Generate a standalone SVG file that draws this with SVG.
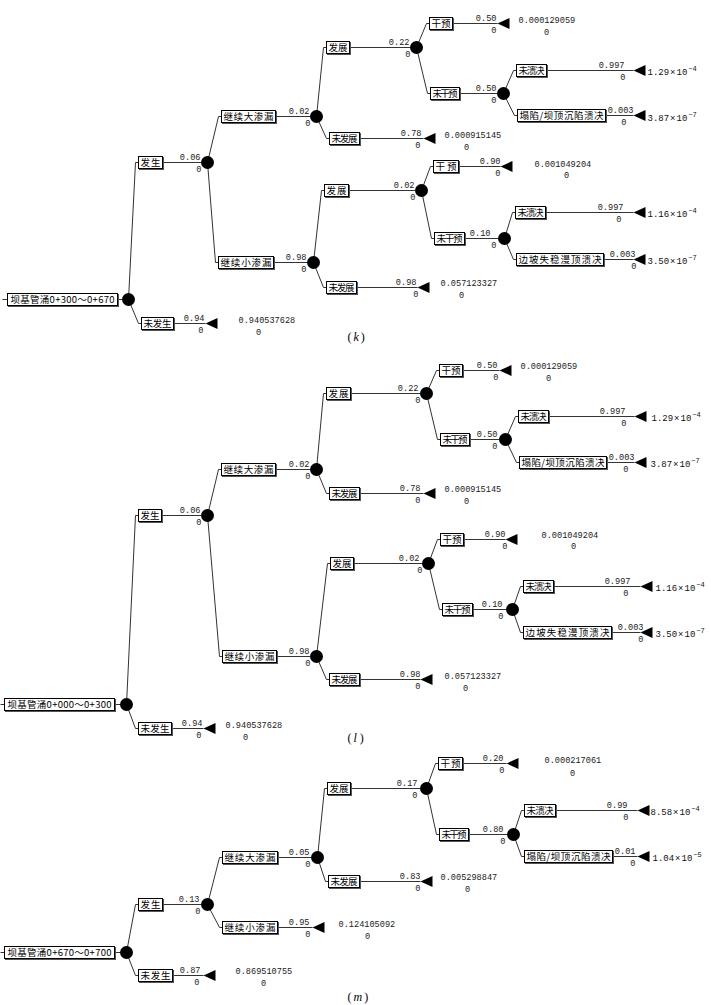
<svg xmlns="http://www.w3.org/2000/svg" xmlns:xlink="http://www.w3.org/1999/xlink" width="711" height="1005" viewBox="0 0 711 1005">
<defs>
<filter id="sh" x="-10%" y="-30%" width="130%" height="170%"><feDropShadow dx="1" dy="1" stdDeviation="0" flood-color="#555" flood-opacity="1"/></filter>
<path id="tri" d="M0,0 L12,-5.5 L12,5.5 Z" fill="#000"/>
</defs>
<style>
.box{fill:#fff;stroke:#000;stroke-width:1;filter:url(#sh)}
.lb{font-family:"Noto Sans CJK SC","Noto Sans CJK JP",sans-serif;font-size:9.5px;text-anchor:middle;fill:#000}
.ch{fill:#000}
.ln{fill:none;stroke:#333;stroke-width:1}
.p{font-family:"Liberation Mono",monospace;font-size:8.6px;text-anchor:end;fill:#222}
.v{font-family:"Liberation Mono",monospace;font-size:8.6px;fill:#222}
.vz{font-family:"Liberation Mono",monospace;font-size:8.6px;text-anchor:middle;fill:#222}
.sci{font-family:"Liberation Mono",monospace;font-size:9px;fill:#111}
.sup{font-size:7px}
.cap{font-family:"Liberation Serif",serif;font-size:12px;fill:#000}
</style>
<rect width="711" height="1005" fill="#fff"/>
<g transform="translate(0.5,0.5)">

<!-- ================= panel k ================= -->
<g id="k-connectors">
<polyline class="ln" points="2,299 7,299"/>
<polyline class="ln" points="117,299 121.5,299"/>
<polyline class="ln" points="128,299 135,162 138,162"/>
<polyline class="ln" points="128,299 138,323 141,323"/>
<polyline class="ln" points="162,162 200.5,162"/>
<polyline class="ln" points="173,323 205,323"/>
<polyline class="ln" points="207,162 218,116 221,116"/>
<polyline class="ln" points="207,162 215,262 218,262"/>
<polyline class="ln" points="275,116 309.5,116"/>
<polyline class="ln" points="273,262 306.5,262"/>
<polyline class="ln" points="316,116 323,47 326,47"/>
<polyline class="ln" points="316,116 326,138 329,138"/>
<polyline class="ln" points="349,47 409.5,47"/>
<polyline class="ln" points="359,138 423,138"/>
<polyline class="ln" points="416,47 426,23 429,23"/>
<polyline class="ln" points="416,47 427,93 430,93"/>
<polyline class="ln" points="452,23 497,23"/>
<polyline class="ln" points="459,93 496.5,93"/>
<polyline class="ln" points="503,93 513,70 516,70"/>
<polyline class="ln" points="503,93 514,115 517,115"/>
<polyline class="ln" points="546,70 633,70"/>
<polyline class="ln" points="605,115 633,115"/>
<polyline class="ln" points="313,262 321,190 324,190"/>
<polyline class="ln" points="313,262 323,287 326,287"/>
<polyline class="ln" points="348,190 414.5,190"/>
<polyline class="ln" points="356,287 417,287"/>
<polyline class="ln" points="421,190 430,166 433,166"/>
<polyline class="ln" points="421,190 431,238 434,238"/>
<polyline class="ln" points="458,166 500,166"/>
<polyline class="ln" points="464,238 497.5,238"/>
<polyline class="ln" points="504,238 512,212 515,212"/>
<polyline class="ln" points="504,238 513,259 516,259"/>
<polyline class="ln" points="545,212 633,212"/>
<polyline class="ln" points="603,259 633,259"/>
<text class="p" x="200" y="159">0.06</text><text class="p" x="201" y="171">0</text>
<text class="p" x="204" y="320">0.94</text><text class="p" x="203" y="332">0</text>
<text class="p" x="309" y="113">0.02</text><text class="p" x="310" y="125">0</text>
<text class="p" x="306" y="259">0.98</text><text class="p" x="306" y="271">0</text>
<text class="p" x="409" y="44">0.22</text><text class="p" x="410" y="56">0</text>
<text class="p" x="421" y="135">0.78</text><text class="p" x="420" y="147">0</text>
<text class="p" x="496" y="20">0.50</text><text class="p" x="496" y="32">0</text>
<text class="p" x="496" y="90">0.50</text><text class="p" x="496" y="102">0</text>
<text class="p" x="624" y="67">0.997</text><text class="p" x="625" y="79">0</text>
<text class="p" x="633" y="112">0.003</text><text class="p" x="626" y="124">0</text>
<text class="p" x="414" y="187">0.02</text><text class="p" x="415" y="199">0</text>
<text class="p" x="416" y="284">0.98</text><text class="p" x="418" y="296">0</text>
<text class="p" x="500" y="163">0.90</text><text class="p" x="500" y="175">0</text>
<text class="p" x="490" y="235">0.10</text><text class="p" x="496" y="247">0</text>
<text class="p" x="623" y="209">0.997</text><text class="p" x="621" y="221">0</text>
<text class="p" x="635" y="256">0.003</text><text class="p" x="636" y="268">0</text>
</g>
<g id="k-root"><rect class="box" x="7" y="293" width="110" height="12"/><text class="lb" x="62" y="302.5" textLength="104">坝基管涌0+300～0+670</text></g>
<g id="k-c0"><circle class="ch" cx="128" cy="299" r="6.5"/></g>
<g id="k-n1"><rect class="box" x="138" y="156" width="24" height="12"/><text class="lb" x="150" y="165.5" textLength="20">发生</text></g>
<g id="k-n2"><rect class="box" x="141" y="317" width="32" height="12"/><text class="lb" x="157" y="326.5" textLength="28">未发生</text></g>
<g id="k-t2"><use href="#tri" x="205" y="323"/><text class="v" x="238" y="322">0.940537628</text><text class="vz" x="258" y="334">0</text></g>
<g id="k-c1"><circle class="ch" cx="207" cy="162" r="6.5"/></g>
<g id="k-n3"><rect class="box" x="221" y="110" width="54" height="12"/><text class="lb" x="248" y="119.5" textLength="50">继续大渗漏</text></g>
<g id="k-c2"><circle class="ch" cx="316" cy="116" r="6.5"/></g>
<g id="k-n4"><rect class="box" x="218" y="256" width="55" height="12"/><text class="lb" x="245.5" y="265.5" textLength="51">继续小渗漏</text></g>
<g id="k-c3"><circle class="ch" cx="313" cy="262" r="6.5"/></g>
<g id="k-n5"><rect class="box" x="326" y="41" width="23" height="12"/><text class="lb" x="337.5" y="50.5" textLength="19">发展</text></g>
<g id="k-c4"><circle class="ch" cx="416" cy="47" r="6.5"/></g>
<g id="k-n6"><rect class="box" x="329" y="132" width="30" height="12"/><text class="lb" x="344" y="141.5" textLength="26">未发展</text></g>
<g id="k-t6"><use href="#tri" x="423" y="138"/><text class="v" x="444" y="137">0.000915145</text><text class="vz" x="466" y="149">0</text></g>
<g id="k-n7"><rect class="box" x="429" y="17" width="23" height="12"/><text class="lb" x="440.5" y="26.5" textLength="19">干预</text></g>
<g id="k-t7"><use href="#tri" x="497" y="23"/><text class="v" x="518" y="22">0.000129059</text><text class="vz" x="546" y="34">0</text></g>
<g id="k-n8"><rect class="box" x="430" y="87" width="29" height="12"/><text class="lb" x="444.5" y="96.5" textLength="25">未干预</text></g>
<g id="k-c5"><circle class="ch" cx="503" cy="93" r="6.5"/></g>
<g id="k-n9"><rect class="box" x="516" y="64" width="30" height="12"/><text class="lb" x="531" y="73.5" textLength="26">未溃决</text></g>
<g id="k-t9"><use href="#tri" x="633" y="70"/><text class="sci" x="647" y="74">1.29<tspan dx="1">×</tspan><tspan dx="1">10</tspan><tspan class="sup" dx="1" dy="-4">−4</tspan></text></g>
<g id="k-n10"><rect class="box" x="517" y="109" width="88" height="12"/><text class="lb" x="561" y="118.5" textLength="84">塌陷/坝顶沉陷溃决</text></g>
<g id="k-t10"><use href="#tri" x="633" y="115"/><text class="sci" x="647" y="120">3.87<tspan dx="1">×</tspan><tspan dx="1">10</tspan><tspan class="sup" dx="1" dy="-4">−7</tspan></text></g>
<g id="k-n11"><rect class="box" x="324" y="184" width="24" height="12"/><text class="lb" x="336" y="193.5" textLength="20">发展</text></g>
<g id="k-c6"><circle class="ch" cx="421" cy="190" r="6.5"/></g>
<g id="k-n12"><rect class="box" x="326" y="281" width="30" height="12"/><text class="lb" x="341" y="290.5" textLength="26">未发展</text></g>
<g id="k-t12"><use href="#tri" x="417" y="287"/><text class="v" x="440" y="285">0.057123327</text><text class="vz" x="461" y="297">0</text></g>
<g id="k-n13"><rect class="box" x="433" y="160" width="25" height="12"/><text class="lb" x="445.5" y="169.5" textLength="21">干预</text></g>
<g id="k-t13"><use href="#tri" x="500" y="166"/><text class="v" x="534" y="166">0.001049204</text><text class="vz" x="566" y="177">0</text></g>
<g id="k-n14"><rect class="box" x="434" y="232" width="30" height="12"/><text class="lb" x="449" y="241.5" textLength="26">未干预</text></g>
<g id="k-c7"><circle class="ch" cx="504" cy="238" r="6.5"/></g>
<g id="k-n15"><rect class="box" x="515" y="206" width="30" height="12"/><text class="lb" x="530" y="215.5" textLength="26">未溃决</text></g>
<g id="k-t15"><use href="#tri" x="633" y="212"/><text class="sci" x="647" y="216">1.16<tspan dx="1">×</tspan><tspan dx="1">10</tspan><tspan class="sup" dx="1" dy="-4">−4</tspan></text></g>
<g id="k-n16"><rect class="box" x="516" y="253" width="87" height="12"/><text class="lb" x="559.5" y="262.5" textLength="83">边坡失稳漫顶溃决</text></g>
<g id="k-t16"><use href="#tri" x="633" y="259"/><text class="sci" x="647" y="263">3.50<tspan dx="1">×</tspan><tspan dx="1">10</tspan><tspan class="sup" dx="1" dy="-4">−7</tspan></text></g>
<text class="cap" x="347" y="340">(<tspan font-style="italic" dx="2">k</tspan><tspan dx="2">)</tspan></text>

<!-- ================= panel l ================= -->
<g id="l-connectors">
<polyline class="ln" points="0,704 4,704"/>
<polyline class="ln" points="114,704 119.5,704"/>
<polyline class="ln" points="126,704 135,515 138,515"/>
<polyline class="ln" points="126,704 135,728 138,728"/>
<polyline class="ln" points="161,515 200.5,515"/>
<polyline class="ln" points="171,728 203,728"/>
<polyline class="ln" points="207,515 218,469 221,469"/>
<polyline class="ln" points="207,515 219,656 222,656"/>
<polyline class="ln" points="275,469 309.5,469"/>
<polyline class="ln" points="276,656 309.5,656"/>
<polyline class="ln" points="316,469 323,393 326,393"/>
<polyline class="ln" points="316,469 326,493 329,493"/>
<polyline class="ln" points="350,393 419.5,393"/>
<polyline class="ln" points="359,493 423,493"/>
<polyline class="ln" points="426,393 436,370 439,370"/>
<polyline class="ln" points="426,393 437,439 440,439"/>
<polyline class="ln" points="462,370 499,370"/>
<polyline class="ln" points="469,439 498.5,439"/>
<polyline class="ln" points="505,439 515,416 518,416"/>
<polyline class="ln" points="505,439 516,462 519,462"/>
<polyline class="ln" points="548,416 634,416"/>
<polyline class="ln" points="606,462 634,462"/>
<polyline class="ln" points="316,656 327,563 330,563"/>
<polyline class="ln" points="316,656 326,679 329,679"/>
<polyline class="ln" points="353,563 421.5,563"/>
<polyline class="ln" points="359,679 420,679"/>
<polyline class="ln" points="428,563 437,539 440,539"/>
<polyline class="ln" points="428,563 439,609 442,609"/>
<polyline class="ln" points="463,539 505,539"/>
<polyline class="ln" points="472,609 505.5,609"/>
<polyline class="ln" points="512,609 520,586 523,586"/>
<polyline class="ln" points="512,609 520,632 523,632"/>
<polyline class="ln" points="553,586 640,586"/>
<polyline class="ln" points="611,632 640,632"/>
<text class="p" x="200" y="512">0.06</text><text class="p" x="201" y="524">0</text>
<text class="p" x="202" y="725">0.94</text><text class="p" x="201" y="737">0</text>
<text class="p" x="309" y="466">0.02</text><text class="p" x="310" y="478">0</text>
<text class="p" x="309" y="653">0.98</text><text class="p" x="310" y="665">0</text>
<text class="p" x="418" y="390">0.22</text><text class="p" x="420" y="402">0</text>
<text class="p" x="420" y="490">0.78</text><text class="p" x="420" y="502">0</text>
<text class="p" x="497" y="367">0.50</text><text class="p" x="498" y="379">0</text>
<text class="p" x="497" y="436">0.50</text><text class="p" x="497" y="448">0</text>
<text class="p" x="625" y="413">0.997</text><text class="p" x="626" y="425">0</text>
<text class="p" x="634" y="459">0.003</text><text class="p" x="628" y="471">0</text>
<text class="p" x="419" y="560">0.02</text><text class="p" x="422" y="572">0</text>
<text class="p" x="420" y="676">0.98</text><text class="p" x="420" y="688">0</text>
<text class="p" x="505" y="536">0.90</text><text class="p" x="507" y="548">0</text>
<text class="p" x="502" y="606">0.10</text><text class="p" x="503" y="618">0</text>
<text class="p" x="630" y="583">0.997</text><text class="p" x="628" y="595">0</text>
<text class="p" x="643" y="629">0.003</text><text class="p" x="643" y="641">0</text>
</g>
<g id="l-root"><rect class="box" x="4" y="698" width="110" height="12"/><text class="lb" x="59" y="707.5" textLength="104">坝基管涌0+000～0+300</text></g>
<g id="l-c0"><circle class="ch" cx="126" cy="704" r="6.5"/></g>
<g id="l-n1"><rect class="box" x="138" y="509" width="23" height="12"/><text class="lb" x="149.5" y="518.5" textLength="19">发生</text></g>
<g id="l-n2"><rect class="box" x="138" y="722" width="33" height="12"/><text class="lb" x="154.5" y="731.5" textLength="29">未发生</text></g>
<g id="l-t2"><use href="#tri" x="203" y="728"/><text class="v" x="225" y="727">0.940537628</text><text class="vz" x="245" y="739">0</text></g>
<g id="l-c1"><circle class="ch" cx="207" cy="515" r="6.5"/></g>
<g id="l-n3"><rect class="box" x="221" y="463" width="54" height="12"/><text class="lb" x="248" y="472.5" textLength="50">继续大渗漏</text></g>
<g id="l-c2"><circle class="ch" cx="316" cy="469" r="6.5"/></g>
<g id="l-n4"><rect class="box" x="222" y="650" width="54" height="12"/><text class="lb" x="249" y="659.5" textLength="50">继续小渗漏</text></g>
<g id="l-c3"><circle class="ch" cx="316" cy="656" r="6.5"/></g>
<g id="l-n5"><rect class="box" x="326" y="387" width="24" height="12"/><text class="lb" x="338" y="396.5" textLength="20">发展</text></g>
<g id="l-c4"><circle class="ch" cx="426" cy="393" r="6.5"/></g>
<g id="l-n6"><rect class="box" x="329" y="487" width="30" height="12"/><text class="lb" x="344" y="496.5" textLength="26">未发展</text></g>
<g id="l-t6"><use href="#tri" x="423" y="493"/><text class="v" x="444" y="491">0.000915145</text><text class="vz" x="466" y="503">0</text></g>
<g id="l-n7"><rect class="box" x="439" y="364" width="23" height="12"/><text class="lb" x="450.5" y="373.5" textLength="19">干预</text></g>
<g id="l-t7"><use href="#tri" x="499" y="370"/><text class="v" x="520" y="368">0.000129059</text><text class="vz" x="548" y="380">0</text></g>
<g id="l-n8"><rect class="box" x="440" y="433" width="29" height="12"/><text class="lb" x="454.5" y="442.5" textLength="25">未干预</text></g>
<g id="l-c5"><circle class="ch" cx="505" cy="439" r="6.5"/></g>
<g id="l-n9"><rect class="box" x="518" y="410" width="30" height="12"/><text class="lb" x="533" y="419.5" textLength="26">未溃决</text></g>
<g id="l-t9"><use href="#tri" x="634" y="416"/><text class="sci" x="651" y="420">1.29<tspan dx="1">×</tspan><tspan dx="1">10</tspan><tspan class="sup" dx="1" dy="-4">−4</tspan></text></g>
<g id="l-n10"><rect class="box" x="519" y="456" width="87" height="12"/><text class="lb" x="562.5" y="465.5" textLength="83">塌陷/坝顶沉陷溃决</text></g>
<g id="l-t10"><use href="#tri" x="634" y="462"/><text class="sci" x="650" y="466">3.87<tspan dx="1">×</tspan><tspan dx="1">10</tspan><tspan class="sup" dx="1" dy="-4">−7</tspan></text></g>
<g id="l-n11"><rect class="box" x="330" y="557" width="23" height="12"/><text class="lb" x="341.5" y="566.5" textLength="19">发展</text></g>
<g id="l-c6"><circle class="ch" cx="428" cy="563" r="6.5"/></g>
<g id="l-n12"><rect class="box" x="329" y="673" width="30" height="12"/><text class="lb" x="344" y="682.5" textLength="26">未发展</text></g>
<g id="l-t12"><use href="#tri" x="420" y="679"/><text class="v" x="444" y="678">0.057123327</text><text class="vz" x="465" y="690">0</text></g>
<g id="l-n13"><rect class="box" x="440" y="533" width="23" height="12"/><text class="lb" x="451.5" y="542.5" textLength="19">干预</text></g>
<g id="l-t13"><use href="#tri" x="505" y="539"/><text class="v" x="541" y="537">0.001049204</text><text class="vz" x="573" y="548">0</text></g>
<g id="l-n14"><rect class="box" x="442" y="603" width="30" height="12"/><text class="lb" x="457" y="612.5" textLength="26">未干预</text></g>
<g id="l-c7"><circle class="ch" cx="512" cy="609" r="6.5"/></g>
<g id="l-n15"><rect class="box" x="523" y="580" width="30" height="12"/><text class="lb" x="538" y="589.5" textLength="26">未溃决</text></g>
<g id="l-t15"><use href="#tri" x="640" y="586"/><text class="sci" x="655" y="590">1.16<tspan dx="1">×</tspan><tspan dx="1">10</tspan><tspan class="sup" dx="1" dy="-4">−4</tspan></text></g>
<g id="l-n16"><rect class="box" x="523" y="626" width="88" height="12"/><text class="lb" x="567" y="635.5" textLength="84">边坡失稳漫顶溃决</text></g>
<g id="l-t16"><use href="#tri" x="640" y="632"/><text class="sci" x="655" y="636">3.50<tspan dx="1">×</tspan><tspan dx="1">10</tspan><tspan class="sup" dx="1" dy="-4">−7</tspan></text></g>
<text class="cap" x="347" y="741">(<tspan font-style="italic" dx="2">l</tspan><tspan dx="3">)</tspan></text>

<!-- ================= panel m ================= -->
<g id="m-connectors">
<polyline class="ln" points="0,952 4,952"/>
<polyline class="ln" points="114,952 119.5,952"/>
<polyline class="ln" points="126,952 135,904 138,904"/>
<polyline class="ln" points="126,952 135,975 138,975"/>
<polyline class="ln" points="162,904 200.5,904"/>
<polyline class="ln" points="172,975 203,975"/>
<polyline class="ln" points="207,904 219,857 222,857"/>
<polyline class="ln" points="207,904 219,927 222,927"/>
<polyline class="ln" points="277,857 310.5,857"/>
<polyline class="ln" points="277,927 312,927"/>
<polyline class="ln" points="317,857 324,788 327,788"/>
<polyline class="ln" points="317,857 325,881 328,881"/>
<polyline class="ln" points="350,788 419.5,788"/>
<polyline class="ln" points="359,881 420,881"/>
<polyline class="ln" points="426,788 435,763 438,763"/>
<polyline class="ln" points="426,788 436,834 439,834"/>
<polyline class="ln" points="462,763 506,763"/>
<polyline class="ln" points="468,834 506.5,834"/>
<polyline class="ln" points="513,834 521,810 524,810"/>
<polyline class="ln" points="513,834 521,856 524,856"/>
<polyline class="ln" points="555,810 637,810"/>
<polyline class="ln" points="612,856 637,856"/>
<text class="p" x="199" y="901">0.13</text><text class="p" x="200" y="913">0</text>
<text class="p" x="200" y="972">0.87</text><text class="p" x="199" y="984">0</text>
<text class="p" x="309" y="854">0.05</text><text class="p" x="310" y="866">0</text>
<text class="p" x="309" y="924">0.95</text><text class="p" x="310" y="936">0</text>
<text class="p" x="417" y="785">0.17</text><text class="p" x="417" y="797">0</text>
<text class="p" x="420" y="878">0.83</text><text class="p" x="420" y="890">0</text>
<text class="p" x="503" y="760">0.20</text><text class="p" x="504" y="772">0</text>
<text class="p" x="503" y="831">0.80</text><text class="p" x="505" y="843">0</text>
<text class="p" x="627" y="807">0.99</text><text class="p" x="628" y="819">0</text>
<text class="p" x="635" y="853">0.01</text><text class="p" x="635" y="865">0</text>
</g>
<g id="m-root"><rect class="box" x="4" y="946" width="110" height="12"/><text class="lb" x="59" y="955.5" textLength="104">坝基管涌0+670～0+700</text></g>
<g id="m-c0"><circle class="ch" cx="126" cy="952" r="6.5"/></g>
<g id="m-n1"><rect class="box" x="138" y="898" width="24" height="12"/><text class="lb" x="150" y="907.5" textLength="20">发生</text></g>
<g id="m-n2"><rect class="box" x="138" y="969" width="34" height="12"/><text class="lb" x="155" y="978.5" textLength="30">未发生</text></g>
<g id="m-t2"><use href="#tri" x="203" y="975"/><text class="v" x="235" y="973">0.869510755</text><text class="vz" x="263" y="985">0</text></g>
<g id="m-c1"><circle class="ch" cx="207" cy="904" r="6.5"/></g>
<g id="m-n3"><rect class="box" x="222" y="851" width="55" height="12"/><text class="lb" x="249.5" y="860.5" textLength="51">继续大渗漏</text></g>
<g id="m-c2"><circle class="ch" cx="317" cy="857" r="6.5"/></g>
<g id="m-n4"><rect class="box" x="222" y="921" width="55" height="12"/><text class="lb" x="249.5" y="930.5" textLength="51">继续小渗漏</text></g>
<g id="m-t4"><use href="#tri" x="312" y="927"/><text class="v" x="338" y="926">0.124105092</text><text class="vz" x="367" y="938">0</text></g>
<g id="m-n5"><rect class="box" x="327" y="782" width="23" height="12"/><text class="lb" x="338.5" y="791.5" textLength="19">发展</text></g>
<g id="m-c4"><circle class="ch" cx="426" cy="788" r="6.5"/></g>
<g id="m-n6"><rect class="box" x="328" y="875" width="31" height="12"/><text class="lb" x="343.5" y="884.5" textLength="27">未发展</text></g>
<g id="m-t6"><use href="#tri" x="420" y="881"/><text class="v" x="440" y="879">0.005298847</text><text class="vz" x="467" y="891">0</text></g>
<g id="m-n7"><rect class="box" x="438" y="757" width="24" height="12"/><text class="lb" x="450" y="766.5" textLength="20">干预</text></g>
<g id="m-t7"><use href="#tri" x="506" y="763"/><text class="v" x="544" y="762">0.000217061</text><text class="vz" x="572" y="775">0</text></g>
<g id="m-n8"><rect class="box" x="439" y="828" width="29" height="12"/><text class="lb" x="453.5" y="837.5" textLength="25">未干预</text></g>
<g id="m-c5"><circle class="ch" cx="513" cy="834" r="6.5"/></g>
<g id="m-n9"><rect class="box" x="524" y="804" width="31" height="12"/><text class="lb" x="539.5" y="813.5" textLength="27">未溃决</text></g>
<g id="m-t9"><use href="#tri" x="637" y="810"/><text class="sci" x="650" y="814">8.58<tspan dx="1">×</tspan><tspan dx="1">10</tspan><tspan class="sup" dx="1" dy="-4">−4</tspan></text></g>
<g id="m-n10"><rect class="box" x="524" y="850" width="88" height="12"/><text class="lb" x="568" y="859.5" textLength="84">塌陷/坝顶沉陷溃决</text></g>
<g id="m-t10"><use href="#tri" x="637" y="856"/><text class="sci" x="652" y="860">1.04<tspan dx="1">×</tspan><tspan dx="1">10</tspan><tspan class="sup" dx="1" dy="-4">−5</tspan></text></g>
<text class="cap" x="347" y="1000">(<tspan font-style="italic" dx="2">m</tspan><tspan dx="2">)</tspan></text>
</g>
</svg>
